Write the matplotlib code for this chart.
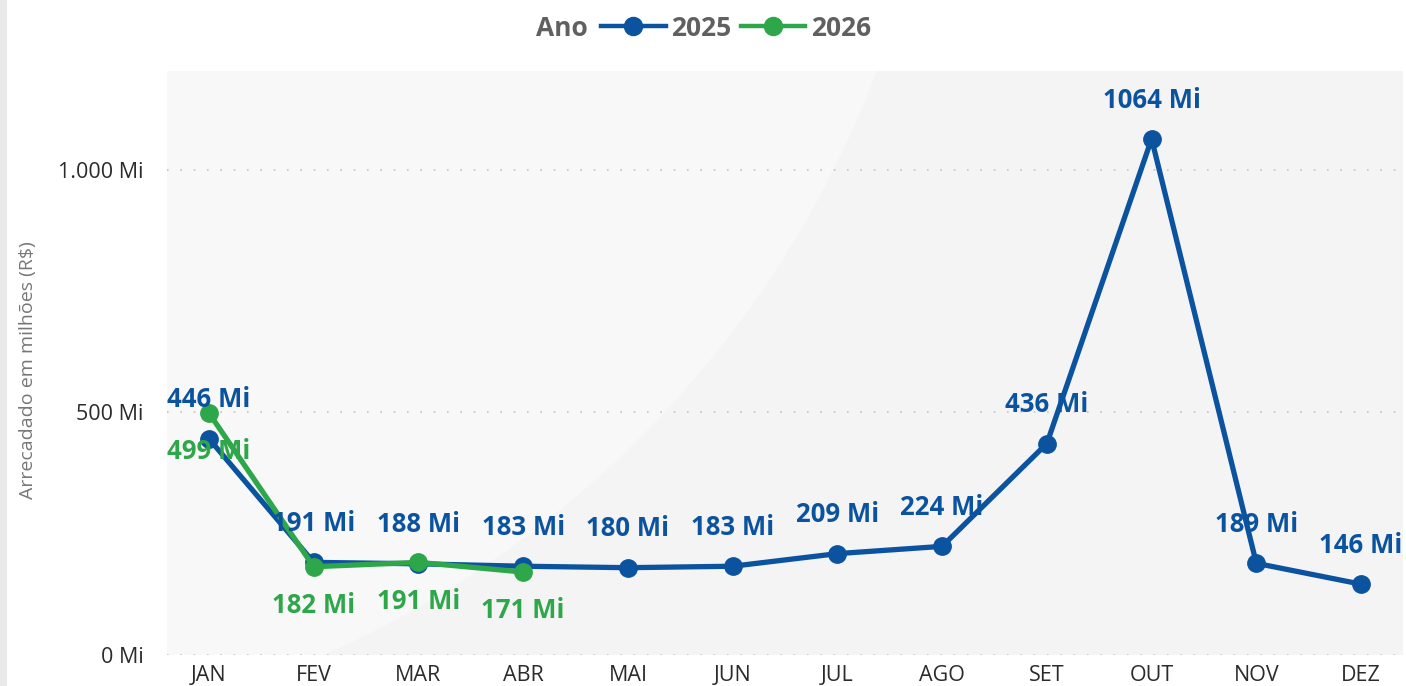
import matplotlib.pyplot as plt
from matplotlib.patches import Ellipse, Rectangle
from matplotlib.lines import Line2D

plt.rcParams['font.family'] = ['Open Sans', 'DejaVu Sans']

meses = ["JAN", "FEV", "MAR", "ABR", "MAI", "JUN", "JUL", "AGO", "SET", "OUT", "NOV", "DEZ"]
valores_2025 = [446, 191, 188, 183, 180, 183, 209, 224, 436, 1064, 189, 146]
valores_2026 = [499, 182, 191, 171]
y_ticks = [0, 500, 1000]
y_tick_labels = ["0 Mi", "500 Mi", "1.000 Mi"]

azul = "#0B539F"
verde = "#2EA64A"

W, H = 1406, 686
fig = plt.figure(figsize=(W / 100, H / 100), dpi=100)
fig.patch.set_facecolor("white")

# faixa cinza na borda esquerda
fig.patches.append(Rectangle((0, 0), 7 / W, 1, transform=fig.transFigure,
                             facecolor="#e9e9e9", edgecolor="none"))

ax = fig.add_axes([167 / W, (H - 655) / H, (1403 - 167) / W, (655 - 71) / H])
ax.set_facecolor("#f4f4f4")

# fundo mais claro com borda curva
luz = Ellipse((-100 / W, 1 + 300 / H), 2 * 1045 / W, 2 * 1045 / H,
              transform=fig.transFigure, facecolor="#f8f8f8", edgecolor="none", zorder=0)
ax.add_patch(luz)
luz.set_clip_path(ax.patch)

x = list(range(len(meses)))
ax.plot(x, valores_2025, color=azul, lw=3.8, marker="o", ms=12.5, zorder=3)
ax.plot(x[:len(valores_2026)], valores_2026, color=verde, lw=3.8, marker="o", ms=12.5, zorder=4)

for xi, v in zip(x, valores_2025):
    ax.annotate(f"{v} Mi", (xi, v), xytext=(0, 28), textcoords="offset points",
                ha="center", va="center", color=azul, fontsize=18.5, fontweight="bold", zorder=5)
for xi, v in zip(x, valores_2026):
    ax.annotate(f"{v} Mi", (xi, v), xytext=(0, -28), textcoords="offset points",
                ha="center", va="center", color=verde, fontsize=18.5, fontweight="bold", zorder=5)

ax.set_xlim(-0.4, 11.4)
ax.set_ylim(0, 1204)
ax.set_xticks(x)
ax.set_xticklabels(meses)
ax.set_yticks(y_ticks)
ax.set_yticklabels(y_tick_labels)
ax.tick_params(length=0, labelsize=15.5, colors="#2b2b2b")
ax.tick_params(axis="x", pad=7)
ax.tick_params(axis="y", pad=17)
ax.grid(axis="y", color="#c4c4c4", linestyle=(0, (1, 7)), lw=1.2)
ax.set_axisbelow(True)
for s in ax.spines.values():
    s.set_visible(False)

fig.text(28 / W, 1 - 370 / H, "Arrecadado em milhões (R$)", rotation=90,
         ha="center", va="center", fontsize=14, color="#777777")

# legenda
fig.text(588 / W, 1 - 28 / H, "Ano", ha="right", va="center",
         fontsize=19, fontweight="bold", color="#606060")
handles = [Line2D([], [], color=azul, lw=3.2, marker="o", ms=13),
           Line2D([], [], color=verde, lw=3.2, marker="o", ms=13)]
leg = fig.legend(handles, ["2025", "2026"], loc="center left",
                 bbox_to_anchor=(601 / W, 1 - 28 / H), ncol=2, frameon=False,
                 handlelength=2.45, handletextpad=0.22, columnspacing=0.34,
                 borderaxespad=0, borderpad=0,
                 prop={"size": 19, "weight": "bold"})
for t in leg.get_texts():
    t.set_color("#606060")

fig.savefig("out.png", dpi=100)
